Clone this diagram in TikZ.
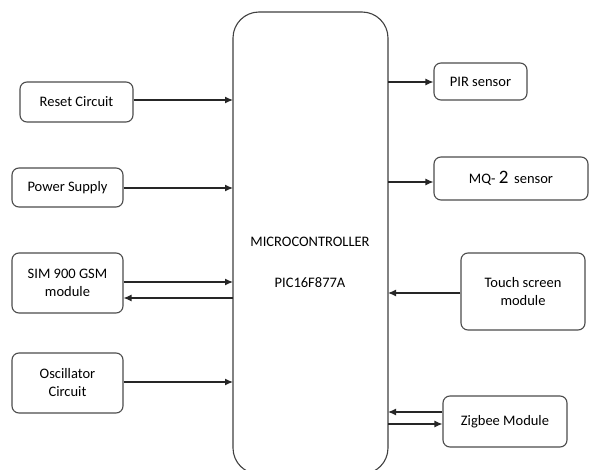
\documentclass[tikz,border=0pt]{standalone}
\usepackage{fontspec}
\setmainfont{Carlito}
\usetikzlibrary{arrows.meta}
\begin{document}
\begin{tikzpicture}[x=1pt,y=-1pt,
  blk/.style={draw=black!70,line width=1.1pt,rounded corners=7pt,align=center,font=\fontsize{14.5}{18}\selectfont,inner sep=0pt},
  conn/.style={line width=1.2pt,draw=black!85,-{Latex[length=8pt,width=7pt]}}]
\useasboundingbox (0,0) rectangle (592,470);
\fill[white] (0,0) rectangle (592,470);
% microcontroller
\draw[line width=1.1pt,draw=black!75,rounded corners=26pt] (233,12) rectangle (388,474);
\node[font=\fontsize{14.5}{18}\selectfont] (mt) at (310,242) {MICROCONTROLLER};
\node[font=\fontsize{14.5}{18}\selectfont] (mp) at (310,283) {PIC16F877A};
\coordinate (mcL) at (233,0);
\coordinate (mcR) at (388,0);
% left blocks
\node[blk,minimum width=113pt,minimum height=40pt] (reset) at (76.5,102) {Reset Circuit};
\node[blk,minimum width=111pt,minimum height=39pt] (power) at (67.5,187.5) {Power Supply};
\node[blk,minimum width=111pt,minimum height=60pt] (sim) at (67.5,283) {SIM 900 GSM\\module};
\node[blk,minimum width=111pt,minimum height=60pt] (osc) at (67.5,383) {Oscillator\\Circuit};
% right blocks
\node[blk,minimum width=93pt,minimum height=37pt] (pir) at (480.5,81.5) {PIR sensor};
\node[blk,minimum width=154pt,minimum height=43pt] (mq) at (511,178.5) {MQ- {\fontsize{19}{20}\selectfont 2}\, sensor};
\node[blk,minimum width=124pt,minimum height=77pt] (touch) at (523,291.5) {Touch screen\\module};
\node[blk,minimum width=124pt,minimum height=51pt] (zig) at (505,421.5) {Zigbee Module};
% connectors
\draw[conn] (reset.east |- 0,100) -- (mcL |- 0,100);
\draw[conn] (power.east |- 0,188) -- (mcL |- 0,188);
\draw[conn] (sim.east |- 0,282) -- (mcL |- 0,282);
\draw[conn] (mcL |- 0,298) -- (sim.east |- 0,298);
\draw[conn] (osc.east |- 0,382) -- (mcL |- 0,382);
\draw[conn] (mcR |- 0,82) -- (pir.west |- 0,82);
\draw[conn] (mcR |- 0,182) -- (mq.west |- 0,182);
\draw[conn] (touch.west |- 0,293) -- (mcR |- 0,293);
\draw[conn] (zig.west |- 0,412) -- (mcR |- 0,412);
\draw[conn] (mcR |- 0,424) -- (zig.west |- 0,424);
\end{tikzpicture}
\end{document}
